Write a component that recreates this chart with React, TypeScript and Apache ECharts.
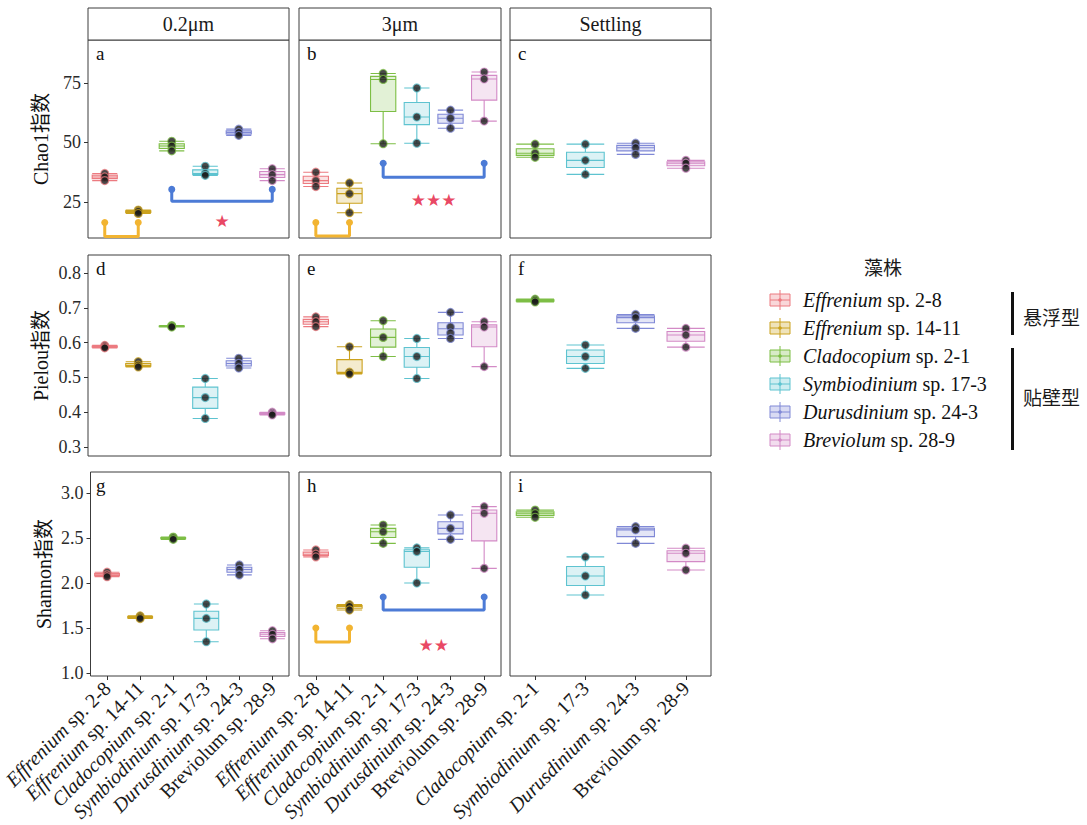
import React, { useEffect, useRef } from 'react';
import * as echarts from 'echarts';

// ---------- data ----------
const strains = ['Effrenium sp. 2-8', 'Effrenium sp. 14-11', 'Cladocopium sp. 2-1', 'Symbiodinium sp. 17-3', 'Durusdinium sp. 24-3', 'Breviolum sp. 28-9'];
const strainColors = ['#EC7A80', '#CBA21E', '#7DBE45', '#5EC3D0', '#8089D6', '#D38AC6'];
const settlingStrains = strains.slice(2);
const fractions = ['0.2μm', '3μm', 'Settling'];
const indexNames = ['Chao1指数', 'Pielou指数', 'Shannon指数'];
const panelLetters = ['a', 'b', 'c', 'd', 'e', 'f', 'g', 'h', 'i'];
const legendTitle = '藻株';
const groupLabels = ['悬浮型', '贴壁型'];

const chao1Ticks = [25, 50, 75];
const pielouTicks = [0.3, 0.4, 0.5, 0.6, 0.7, 0.8];
const shannonTicks = [1.0, 1.5, 2.0, 2.5, 3.0];
const chao1Range = [9.87, 93.07];
const pielouRange = [0.274, 0.852];
const shannonRange = [0.967, 3.233];

// box stats: [min, Q1, median, Q3, max]
const chao1SmallBox = [[34, 34.8, 35.5, 36.3, 37], [20.2, 20.6, 21, 21.3, 21.6], [46.5, 47.5, 48.5, 49.5, 50.5], [36.2, 36.6, 37.0, 38.5, 40], [53, 53.6, 54.2, 54.9, 55.6], [34, 35.3, 36.5, 37.8, 39]];
const chao1SmallPts = [[37, 35.5, 34], [21.6, 21, 20.2], [50.5, 48.5, 46.5], [40, 37, 36.2], [55.6, 54.2, 53], [39, 36.5, 34]];
const chao1LargeBox = [[31.5, 32.8, 34, 35.8, 37.5], [20.5, 24.5, 28.5, 30.8, 33], [49.5, 63, 76.5, 77.8, 79], [49.7, 57.5, 60.7, 66.8, 72.9], [56, 58.1, 60.2, 61.9, 63.6], [59, 67.8, 76.7, 78.2, 79.6]];
const chao1LargePts = [[37.5, 34, 31.5], [33, 28.5, 20.5], [79, 76.5, 49.5], [72.9, 60.7, 49.7], [63.6, 60.2, 56], [79.6, 76.7, 59]];
const chao1SettlingBox = [[43.8, 44.6, 45.5, 47.4, 49.3], [36.6, 39.5, 42.5, 45.9, 49.3], [45, 46.5, 47.8, 48.8, 49.7], [39.2, 40.2, 41.3, 41.9, 42.5]];
const chao1SettlingPts = [[49.3, 45.5, 43.8], [49.3, 42.5, 36.6], [49.7, 47.8, 45], [42.5, 41.3, 39.2]];

const pielouSmallBox = [[0.585, 0.587, 0.588, 0.59, 0.592], [0.53, 0.532, 0.535, 0.54, 0.545], [0.645, 0.646, 0.647, 0.648, 0.649], [0.382, 0.411, 0.442, 0.472, 0.497], [0.527, 0.533, 0.54, 0.548, 0.555], [0.392, 0.394, 0.396, 0.398, 0.4]];
const pielouSmallPts = [[0.592, 0.588, 0.585], [0.545, 0.535, 0.53], [0.649, 0.647, 0.645], [0.497, 0.442, 0.382], [0.555, 0.54, 0.527], [0.4, 0.396, 0.392]];
const pielouLargeBox = [[0.646, 0.653, 0.66, 0.667, 0.674], [0.51, 0.512, 0.515, 0.551, 0.588], [0.56, 0.587, 0.615, 0.639, 0.663], [0.497, 0.529, 0.56, 0.586, 0.612], [0.612, 0.622, 0.64, 0.657, 0.687], [0.531, 0.588, 0.645, 0.651, 0.66]];
const pielouLargePts = [[0.674, 0.66, 0.646], [0.588, 0.515, 0.51], [0.663, 0.615, 0.56], [0.612, 0.56, 0.497], [0.687, 0.645, 0.628, 0.612], [0.66, 0.645, 0.531]];
const pielouSettlingBox = [[0.717, 0.719, 0.721, 0.723, 0.725], [0.526, 0.54, 0.56, 0.579, 0.593], [0.641, 0.657, 0.672, 0.677, 0.681], [0.587, 0.604, 0.622, 0.632, 0.641]];
const pielouSettlingPts = [[0.725, 0.721, 0.717], [0.593, 0.56, 0.526], [0.681, 0.672, 0.641], [0.641, 0.622, 0.587]];

const shannonSmallBox = [[2.07, 2.08, 2.09, 2.105, 2.12], [1.605, 1.612, 1.62, 1.628, 1.635], [2.485, 2.492, 2.5, 2.505, 2.51], [1.348, 1.478, 1.607, 1.687, 1.767], [2.09, 2.12, 2.15, 2.175, 2.2], [1.38, 1.405, 1.43, 1.45, 1.47]];
const shannonSmallPts = [[2.12, 2.09, 2.07], [1.635, 1.62, 1.605], [2.51, 2.5, 2.485], [1.767, 1.607, 1.348], [2.2, 2.15, 2.09], [1.47, 1.43, 1.38]];
const shannonLargeBox = [[2.29, 2.305, 2.32, 2.343, 2.367], [1.7, 1.72, 1.74, 1.75, 1.76], [2.44, 2.505, 2.57, 2.607, 2.644], [2.0, 2.175, 2.35, 2.37, 2.39], [2.485, 2.546, 2.607, 2.68, 2.756], [2.163, 2.468, 2.774, 2.811, 2.848]];
const shannonLargePts = [[2.367, 2.32, 2.29], [1.76, 1.74, 1.7], [2.644, 2.57, 2.44], [2.39, 2.35, 2.0], [2.756, 2.607, 2.485], [2.848, 2.774, 2.163]];
const shannonSettlingBox = [[2.73, 2.75, 2.77, 2.79, 2.81], [1.867, 1.972, 2.078, 2.184, 2.29], [2.44, 2.515, 2.59, 2.608, 2.626], [2.144, 2.237, 2.33, 2.358, 2.386]];
const shannonSettlingPts = [[2.81, 2.77, 2.73], [2.29, 2.078, 1.867], [2.626, 2.59, 2.44], [2.386, 2.33, 2.144]];

// significance brackets: [fromIndex, toIndex, baseValue, armTopValue]
const chao1SmallBrackets = [[0, 1, 10.5, 16.4], [2, 5, 25.3, 30.3]];
const chao1LargeBrackets = [[0, 1, 10.7, 16.4], [2, 5, 35.4, 41.3]];
const shannonLargeBrackets = [[0, 1, 1.344, 1.5], [2, 5, 1.7, 1.844]];
const bracketColors = ['#F2B431', '#4C7BD6'];
// stars: [xIndex, value, text]
const chao1SmallStar = [3.5, 17.2, '★'];
const chao1LargeStar = [3.5, 25.7, '★★★'];
const shannonLargeStar = [3.5, 1.31, '★★'];

// ---------- layout ----------
const SERIF = "'Liberation Serif', 'Times New Roman', 'Noto Sans CJK SC', serif";
const CJK = "'Noto Sans CJK SC', sans-serif";
const colX = [88, 299, 510];
const colW = [201, 202, 201];
const rowY = [40, 255, 472];
const rowH = [198, 201, 204];

const rgba = (hex: string, a: number) => {
  const n = parseInt(hex.slice(1), 16);
  return `rgba(${(n >> 16) & 255},${(n >> 8) & 255},${n & 255},${a})`;
};

const xLabelFmt = (v: string) => {
  const i = v.indexOf(' ');
  const g = v.slice(0, i);
  const rest = v.slice(i);
  return g === 'Breviolum' ? `{n|${v}}` : `{i|${g}}{n|${rest}}`;
};

function buildOption() {
  const panelData = [
    { box: chao1SmallBox, pts: chao1SmallPts, br: chao1SmallBrackets, star: chao1SmallStar },
    { box: chao1LargeBox, pts: chao1LargePts, br: chao1LargeBrackets, star: chao1LargeStar },
    { box: chao1SettlingBox, pts: chao1SettlingPts, br: [], star: null },
    { box: pielouSmallBox, pts: pielouSmallPts, br: [], star: null },
    { box: pielouLargeBox, pts: pielouLargePts, br: [], star: null },
    { box: pielouSettlingBox, pts: pielouSettlingPts, br: [], star: null },
    { box: shannonSmallBox, pts: shannonSmallPts, br: [], star: null },
    { box: shannonLargeBox, pts: shannonLargePts, br: shannonLargeBrackets, star: shannonLargeStar },
    { box: shannonSettlingBox, pts: shannonSettlingPts, br: [], star: null },
  ];
  const ranges = [chao1Range, pielouRange, shannonRange];
  const ticks = [chao1Ticks, pielouTicks, shannonTicks];
  const tickFmt = [(v: number) => String(v), (v: number) => v.toFixed(1), (v: number) => v.toFixed(1)];

  const grid: any[] = [];
  const xAxis: any[] = [];
  const yAxis: any[] = [];
  const series: any[] = [];
  const graphic: any[] = [];

  for (let r = 0; r < 3; r++) {
    for (let c = 0; c < 3; c++) {
      const g = r * 3 + c;
      const cats = c === 2 ? settlingStrains : strains;
      const cols = c === 2 ? strainColors.slice(2) : strainColors;
      const pd = panelData[g];
      grid.push({ left: colX[c], top: rowY[r], width: colW[c], height: rowH[r], show: true, borderColor: '#3c3c3c', borderWidth: 1, backgroundColor: '#fff' });
      xAxis.push({
        gridIndex: g, type: 'category', data: cats, boundaryGap: true, position: 'bottom',
        axisLine: { show: false, onZero: false }, splitLine: { show: false },
        axisTick: { show: r === 2, alignWithLabel: true, length: 4, lineStyle: { color: '#333' } },
        axisLabel: {
          show: r === 2, rotate: 45, interval: 0, margin: 9, formatter: xLabelFmt,
          rich: {
            i: { fontFamily: SERIF, fontStyle: 'italic', fontSize: 20, color: '#1a1a1a' },
            n: { fontFamily: SERIF, fontSize: 20, color: '#1a1a1a' },
          },
        },
      });
      xAxis.push({ gridIndex: g, type: 'value', min: -0.5, max: cats.length - 0.5, show: false, axisLine: { onZero: false } });
      yAxis.push({
        gridIndex: g, type: 'value', min: ranges[r][0], max: ranges[r][1], position: 'left',
        axisLine: { show: false, onZero: false }, splitLine: { show: false },
        axisTick: { show: c === 0, length: 4, lineStyle: { color: '#333' }, customValues: ticks[r] },
        axisLabel: { show: c === 0, customValues: ticks[r], formatter: tickFmt[r], fontFamily: SERIF, fontSize: 18, color: '#2a2a2a', margin: 7 },
        name: c === 0 ? indexNames[r] : '', nameLocation: 'middle', nameGap: 37, nameRotate: 90,
        nameTextStyle: { fontFamily: SERIF, fontSize: 20, color: '#111' },
      });
      series.push({
        type: 'boxplot', xAxisIndex: 2 * g, yAxisIndex: g, boxWidth: ['75%', '75%'], silent: true,
        data: pd.box.map((b, i) => ({ value: b, itemStyle: { color: rgba(cols[i], 0.22), borderColor: cols[i], borderWidth: 1.1 } })),
      });
      series.push({
        type: 'scatter', xAxisIndex: 2 * g + 1, yAxisIndex: g, symbolSize: 8, silent: true,
        data: pd.pts.flatMap((arr, i) => arr.map((v) => ({ value: [i, v], itemStyle: { color: '#1b1b1b', borderColor: rgba(cols[i], 0.9), borderWidth: 1.2 } }))),
      });
      pd.br.forEach((b: number[], k: number) => {
        series.push({
          type: 'line', xAxisIndex: 2 * g + 1, yAxisIndex: g, silent: true,
          symbol: 'circle', symbolSize: 7, lineStyle: { color: bracketColors[k], width: 3 }, itemStyle: { color: bracketColors[k] },
          data: [
            { value: [b[0], b[3]] },
            { value: [b[0], b[2]], symbol: 'none' },
            { value: [b[1], b[2]], symbol: 'none' },
            { value: [b[1], b[3]] },
          ],
        });
      });
      if (pd.star) {
        const s = pd.star as any[];
        series.push({
          type: 'scatter', xAxisIndex: 2 * g + 1, yAxisIndex: g, silent: true, symbolSize: 1,
          itemStyle: { color: 'transparent' },
          label: { show: true, position: 'inside', formatter: s[2], color: '#E4163A', fontSize: 17, fontFamily: "'DejaVu Sans', sans-serif" },
          data: [[s[0], s[1]]],
        });
      }
      graphic.push({
        type: 'text', left: colX[c] + 8, top: rowY[r] + 4,
        style: { text: panelLetters[g], fontFamily: SERIF, fontSize: 19, fill: '#111' },
      });
    }
  }

  // strip headers
  for (let c = 0; c < 3; c++) {
    graphic.push({ type: 'rect', shape: { x: colX[c], y: 8, width: colW[c], height: 32 }, style: { fill: '#fff', stroke: '#3c3c3c', lineWidth: 1 } });
    graphic.push({
      type: 'text', x: colX[c] + colW[c] / 2, y: 24,
      style: { text: fractions[c], fontFamily: SERIF, fontSize: 20, fill: '#1a1a1a', align: 'center', verticalAlign: 'middle' },
    });
  }

  // legend
  graphic.push({ type: 'text', x: 883, y: 266, style: { text: legendTitle, fontFamily: CJK, fontSize: 19, fill: '#1a1a1a', align: 'center', verticalAlign: 'middle' } });
  const legendY0 = 300;
  const legendStep = 28;
  strains.forEach((s, i) => {
    const y = legendY0 + i * legendStep;
    const col = strainColors[i];
    graphic.push({ type: 'line', shape: { x1: 780, y1: y - 10, x2: 780, y2: y + 10 }, style: { stroke: col, lineWidth: 1 } });
    graphic.push({ type: 'rect', shape: { x: 770, y: y - 6, width: 20, height: 12 }, style: { fill: rgba(col, 0.3), stroke: col, lineWidth: 1 } });
    graphic.push({ type: 'line', shape: { x1: 770, y1: y, x2: 790, y2: y }, style: { stroke: col, lineWidth: 1 } });
    graphic.push({ type: 'circle', shape: { cx: 780, cy: y, r: 1.8 }, style: { fill: col } });
    const sp = s.indexOf(' ');
    graphic.push({
      type: 'text', x: 803, y,
      style: {
        text: `{i|${s.slice(0, sp)}}{n|${s.slice(sp)}}`, verticalAlign: 'middle',
        rich: {
          i: { fontFamily: SERIF, fontStyle: 'italic', fontSize: 20, fill: '#111' },
          n: { fontFamily: SERIF, fontSize: 20, fill: '#111' },
        },
      },
    });
  });
  graphic.push({ type: 'rect', shape: { x: 1011, y: 292, width: 3, height: 43 }, style: { fill: '#111' } });
  graphic.push({ type: 'rect', shape: { x: 1011, y: 348, width: 3, height: 102 }, style: { fill: '#111' } });
  graphic.push({ type: 'text', x: 1023, y: 316, style: { text: groupLabels[0], fontFamily: CJK, fontSize: 19, fill: '#1a1a1a', verticalAlign: 'middle' } });
  graphic.push({ type: 'text', x: 1023, y: 396, style: { text: groupLabels[1], fontFamily: CJK, fontSize: 19, fill: '#1a1a1a', verticalAlign: 'middle' } });

  return { animation: false, backgroundColor: '#fff', grid, xAxis, yAxis, series, graphic };
}

export default function App() {
  const ref = useRef<HTMLDivElement>(null);
  useEffect(() => {
    if (!ref.current) return;
    const chart = echarts.init(ref.current, undefined, { renderer: 'svg' });
    chart.setOption(buildOption() as any);
    return () => chart.dispose();
  }, []);
  return <div ref={ref} style={{ position: 'fixed', left: 0, top: 0, width: 1087, height: 825, background: '#fff' }} />;
}
